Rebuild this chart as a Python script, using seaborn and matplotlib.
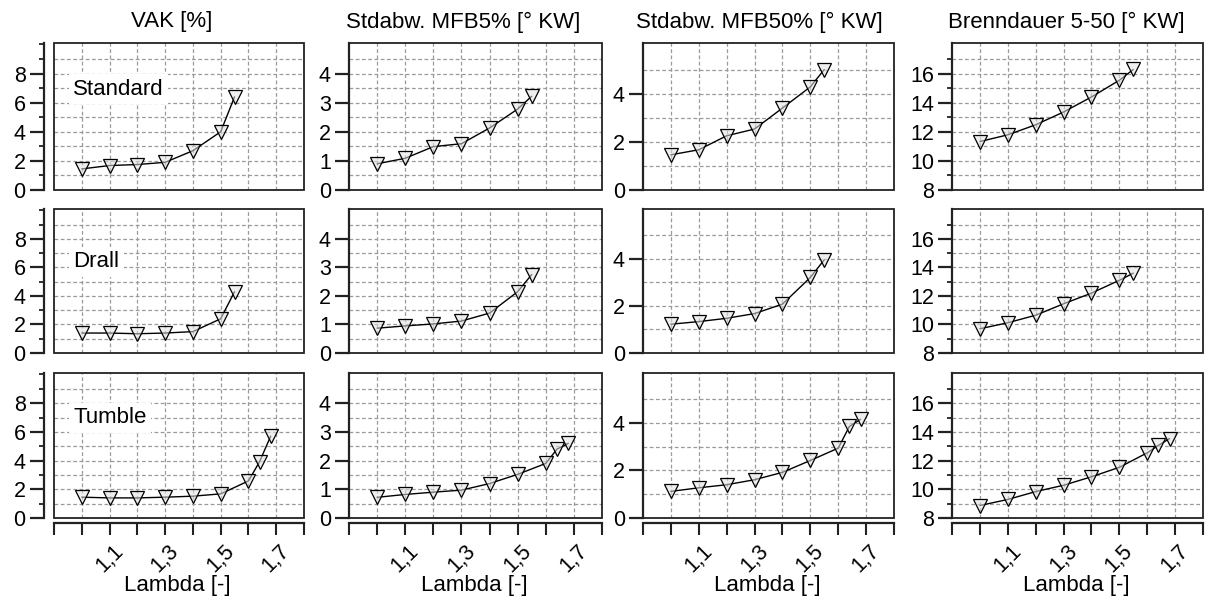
import matplotlib
matplotlib.use("Agg")
import matplotlib.pyplot as plt
import matplotlib.patches as mpatches
import numpy as np
import pandas as pd
import seaborn as sns

# ---------------- data ----------------
lambda_standard = [1.0, 1.1, 1.2, 1.3, 1.4, 1.5, 1.55]
lambda_drall = [1.0, 1.1, 1.2, 1.3, 1.4, 1.5, 1.55]
lambda_tumble = [1.0, 1.1, 1.2, 1.3, 1.4, 1.5, 1.6, 1.64, 1.68]

vak_standard = [1.45, 1.68, 1.75, 1.9, 2.7, 4.0, 6.4]
vak_drall = [1.4, 1.4, 1.35, 1.4, 1.5, 2.4, 4.3]
vak_tumble = [1.45, 1.4, 1.4, 1.45, 1.52, 1.68, 2.58, 3.92, 5.7]

mfb5_standard = [0.9, 1.09, 1.49, 1.59, 2.13, 2.78, 3.22]
mfb5_drall = [0.87, 0.95, 1.02, 1.12, 1.4, 2.15, 2.75]
mfb5_tumble = [0.72, 0.82, 0.9, 0.97, 1.2, 1.52, 1.9, 2.4, 2.6]

mfb50_standard = [1.46, 1.67, 2.25, 2.53, 3.4, 4.28, 5.0]
mfb50_drall = [1.22, 1.33, 1.47, 1.67, 2.07, 3.2, 3.95]
mfb50_tumble = [1.12, 1.27, 1.4, 1.61, 1.92, 2.42, 2.94, 3.85, 4.15]

brenn_standard = [11.33, 11.79, 12.48, 13.36, 14.39, 15.54, 16.28]
brenn_drall = [9.7, 10.12, 10.65, 11.45, 12.2, 13.1, 13.6]
brenn_tumble = [8.87, 9.29, 9.84, 10.28, 10.87, 11.53, 12.54, 13.06, 13.53]

variants = ["Standard", "Drall", "Tumble"]
quantities = ["VAK [%]", "Stdabw. MFB5% [° KW]", "Stdabw. MFB50% [° KW]",
              "Brenndauer 5-50 [° KW]"]
x_label = "Lambda [-]"
x_ticklabels = ["1,1", "1,3", "1,5", "1,7"]

lam = {"Standard": lambda_standard, "Drall": lambda_drall, "Tumble": lambda_tumble}
vals = {
    quantities[0]: {"Standard": vak_standard, "Drall": vak_drall, "Tumble": vak_tumble},
    quantities[1]: {"Standard": mfb5_standard, "Drall": mfb5_drall, "Tumble": mfb5_tumble},
    quantities[2]: {"Standard": mfb50_standard, "Drall": mfb50_drall, "Tumble": mfb50_tumble},
    quantities[3]: {"Standard": brenn_standard, "Drall": brenn_drall, "Tumble": brenn_tumble},
}

rows = []
for q in quantities:
    for v in variants:
        for x, y in zip(lam[v], vals[q][v]):
            rows.append({"quantity": q, "variant": v, "lambda": x, "value": y})
df = pd.DataFrame(rows)

# ---------------- style ----------------
sns.set_style("white")
plt.rcParams["font.family"] = ["Liberation Sans", "DejaVu Sans"]
plt.rcParams["text.color"] = "black"
plt.rcParams["xtick.labelcolor"] = "black"
plt.rcParams["ytick.labelcolor"] = "black"

W, H = 1205, 601
fig = plt.figure(figsize=(W / 100, H / 100), dpi=100)

col_l = [54, 349, 643, 952]
col_r = [304, 602, 894, 1203]
row_t = [43, 209, 373]
row_b = [190, 353, 518]

ylims = [(0, 10.1), (0, 5.05), (0, 6.1), (8, 18.1)]
ymajor = [[0, 2, 4, 6, 8], [0, 1, 2, 3, 4], [0, 2, 4], [8, 10, 12, 14, 16]]
yminor = [[1, 3, 5, 7, 9, 10], [], [], [9, 11, 13, 15, 17]]
ygrid = [list(range(1, 10)), list(np.arange(0.5, 5.0, 0.5)), [1, 2, 3, 4, 5],
         list(range(9, 18))]
xgrid = [1.0, 1.1, 1.2, 1.3, 1.4, 1.5, 1.6, 1.7]
xticks_all = [0.9, 1.0, 1.1, 1.2, 1.3, 1.4, 1.5, 1.6, 1.7, 1.8]
label_y = {"Standard": 0.687, "Drall": 0.632, "Tumble": 0.69}
title_x = [172, 463.5, 759.5, 1066]

frame_col = "#222222"
tick_fs = 15.5
text_fs = 16

for ci, q in enumerate(quantities):
    for ri, v in enumerate(variants):
        l, r, t, b = col_l[ci], col_r[ci], row_t[ri], row_b[ri]
        ax = fig.add_axes([l / W, 1 - b / H, (r - l) / W, (b - t) / H])
        ax.set_xlim(0.9, 1.8)
        ax.set_ylim(*ylims[ci])

        for gy in ygrid[ci]:
            ax.axhline(gy, color="#9a9a9a", lw=0.9, ls=(0, (3, 2)), zorder=0)
        for gx in xgrid:
            ax.axvline(gx, color="#9a9a9a", lw=0.9, ls=(0, (3, 2)), zorder=0)

        sub = df[(df["quantity"] == q) & (df["variant"] == v)]
        sns.lineplot(data=sub, x="lambda", y="value", ax=ax, color="black",
                     lw=1.0, marker="v", markersize=10,
                     markerfacecolor=(0.88, 0.88, 0.88, 0.55),
                     markeredgecolor="black", markeredgewidth=0.9,
                     sort=False, estimator=None, zorder=3)
        ax.set_xlabel("")
        ax.set_ylabel("")

        # frame
        for s in ax.spines.values():
            s.set_visible(False)
        ax.add_patch(mpatches.Rectangle((0, 0), 1, 1, transform=ax.transAxes,
                                        fill=False, lw=1.3, ec=frame_col,
                                        clip_on=False, zorder=5))
        # left axis
        ax.spines["left"].set_visible(True)
        ax.spines["left"].set_linewidth(1.6)
        ax.spines["left"].set_color(frame_col)
        if ci == 0:
            ax.spines["left"].set_position(("outward", 7.5))
        ax.set_yticks(ymajor[ci])
        ax.set_yticks(yminor[ci], minor=True)
        ax.set_yticklabels([str(t_) for t_ in ymajor[ci]])
        ax.tick_params(axis="y", which="both", left=True, right=False)
        ax.tick_params(axis="y", which="major", direction="out", length=10,
                       width=1.6, color=frame_col, labelsize=tick_fs, pad=3,
                       labelcolor="black")
        ax.tick_params(axis="y", which="minor", direction="out", length=3.5,
                       width=1.3, color=frame_col)

        if ri == 2:
            ax.spines["bottom"].set_visible(True)
            ax.spines["bottom"].set_linewidth(1.6)
            ax.spines["bottom"].set_color(frame_col)
            ax.spines["bottom"].set_position(("outward", 3.5))
            ax.set_xticks(xticks_all)
            ax.set_xticklabels(["", "", x_ticklabels[0], "", x_ticklabels[1], "",
                                x_ticklabels[2], "", x_ticklabels[3], ""])
            ax.tick_params(axis="x", which="major", bottom=True, top=False,
                           direction="out", length=8.5, width=1.5,
                           color=frame_col, labelsize=tick_fs,
                           labelrotation=45, pad=4, labelcolor="black")
            ax.text(0.495, (518 - 585) / (518 - 373), x_label,
                    transform=ax.transAxes, ha="center", va="center",
                    fontsize=text_fs, color="black")
        else:
            ax.set_xticks(xticks_all)
            ax.tick_params(axis="x", which="both", bottom=False, labelbottom=False)

        if ci == 0:
            ax.text(0.077, label_y[v], v, transform=ax.transAxes, ha="left",
                    va="center", fontsize=text_fs, zorder=4, color="black",
                    bbox=dict(boxstyle="square,pad=0.2", fc="white", ec="none"))

    fig.text(title_x[ci] / W, 1 - 22 / H, q, ha="center", va="center",
             fontsize=text_fs, color="black")

fig.savefig("out.png", dpi=100)
